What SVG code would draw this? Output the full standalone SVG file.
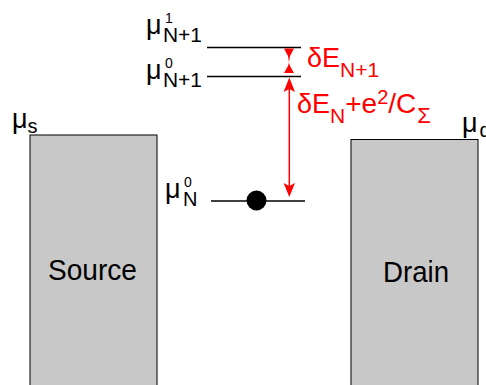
<svg xmlns="http://www.w3.org/2000/svg" width="486" height="385" viewBox="0 0 486 385">
<style>
.box{fill:#c8c8c8;stroke:#000;stroke-width:1}
.lvl{stroke:#000;stroke-width:1.3;fill:none}
.t{font-family:"Liberation Sans",Arial,sans-serif;fill:#000}
.r{font-family:"Liberation Sans",Arial,sans-serif;fill:#ff0000}
.ra{stroke:#ff0000;stroke-width:1.5;fill:none}
.rh{fill:#ff0000;stroke:none}
.mu{font-size:27px}
.sup{font-size:14px}
.sub{font-size:20px}
</style>
<rect width="486" height="385" fill="#fff"/>
<g id="source">
<rect class="box" x="30" y="135" width="127" height="260"/>
<text class="t" x="48" y="280" font-size="29" textLength="89" lengthAdjust="spacingAndGlyphs">Source</text>
<text class="t mu" x="12" y="128">μ<tspan class="sub" dy="5">s</tspan></text>
</g>
<g id="drain">
<rect class="box" x="351" y="139.500" width="127" height="260"/>
<text class="t" x="383" y="282" font-size="29" textLength="66" lengthAdjust="spacingAndGlyphs">Drain</text>
<text class="t mu" x="462" y="132">μ<tspan class="sub" dx="2" dy="5">d</tspan></text>
</g>
<g id="level-n1-1">
<line class="lvl" x1="207" y1="47.500" x2="301" y2="47.500"/>
<text class="t mu" x="146" y="34">μ<tspan class="sup" x="165" y="23">1</tspan><tspan class="sub" x="163" y="42" textLength="39" lengthAdjust="spacingAndGlyphs">N+1</tspan></text>
</g>
<g id="level-n1-0">
<line class="lvl" x1="207" y1="76.500" x2="301" y2="76.500"/>
<text class="t mu" x="146" y="79">μ<tspan class="sup" x="165" y="68">0</tspan><tspan class="sub" x="163" y="87" textLength="39" lengthAdjust="spacingAndGlyphs">N+1</tspan></text>
</g>
<g id="level-n0">
<line class="lvl" x1="211" y1="201" x2="305" y2="201"/>
<circle cx="256.500" cy="200.500" r="10" fill="#000"/>
<text class="t mu" x="165" y="198">μ<tspan class="sup" x="184" y="187">0</tspan><tspan class="sub" x="183" y="206">N</tspan></text>
</g>
<g id="connectors">
<polygon class="rh" points="284,48.500 294,48.500 290,56 289,62.500 288,56"/>
<polygon class="rh" points="284,73 294,73 290,66 289,62.500 288,66"/>
<line class="ra" x1="289.300" y1="85" x2="289.300" y2="188"/>
<polygon class="rh" points="289.300,77.500 295,92 289.300,89 283.600,92"/>
<polygon class="rh" points="289.300,197 295,183 289.300,186 283.600,183"/>
</g>
<g id="labels">
<text class="r" x="307" y="67" font-size="27">δE<tspan font-size="21" dy="10">N+1</tspan></text>
<text class="r" x="297" y="113" font-size="27">δE<tspan font-size="21" dy="10">N</tspan><tspan font-size="28" dy="-10">+e</tspan><tspan font-size="20" dy="-9">2</tspan><tspan font-size="28" dy="9">/C</tspan><tspan font-size="22" dy="10" dx="1">Σ</tspan></text>
</g>
</svg>
